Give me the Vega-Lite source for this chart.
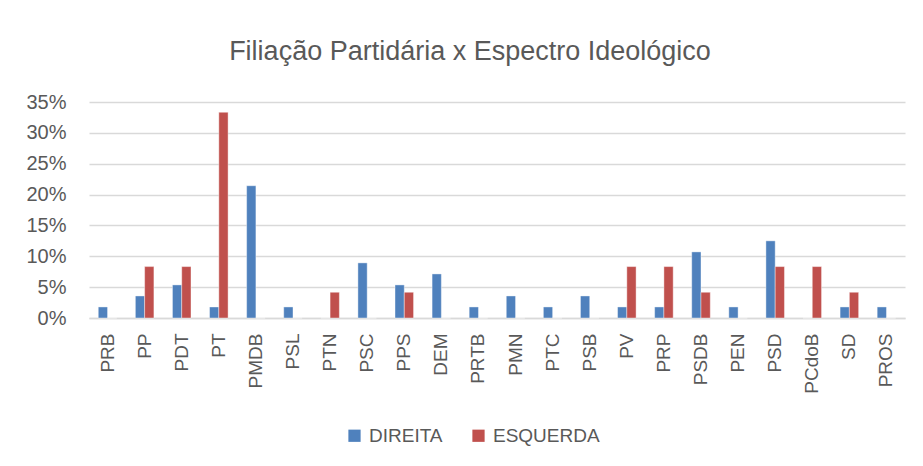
{
  "$schema": "https://vega.github.io/schema/vega-lite/v6.json",
  "autosize": {"type": "none"},
  "width": 816,
  "height": 216,
  "padding": {"left": 89, "top": 102, "right": 18, "bottom": 148},
  "background": "white",
  "title": {
    "text": "Filiação Partidária x Espectro Ideológico",
    "font": "Liberation Sans",
    "fontSize": 27,
    "fontWeight": "normal",
    "color": "#595959",
    "anchor": "middle",
    "offset": 26,
    "dx": -27
  },
  "data": {
    "values": [
      {"partido": "PRB", "espectro": "DIREITA", "valor": 0.0179},
      {"partido": "PRB", "espectro": "ESQUERDA", "valor": 0},
      {"partido": "PP", "espectro": "DIREITA", "valor": 0.0357},
      {"partido": "PP", "espectro": "ESQUERDA", "valor": 0.0833},
      {"partido": "PDT", "espectro": "DIREITA", "valor": 0.0536},
      {"partido": "PDT", "espectro": "ESQUERDA", "valor": 0.0833},
      {"partido": "PT", "espectro": "DIREITA", "valor": 0.0179},
      {"partido": "PT", "espectro": "ESQUERDA", "valor": 0.3333},
      {"partido": "PMDB", "espectro": "DIREITA", "valor": 0.2143},
      {"partido": "PMDB", "espectro": "ESQUERDA", "valor": 0},
      {"partido": "PSL", "espectro": "DIREITA", "valor": 0.0179},
      {"partido": "PSL", "espectro": "ESQUERDA", "valor": 0},
      {"partido": "PTN", "espectro": "DIREITA", "valor": 0},
      {"partido": "PTN", "espectro": "ESQUERDA", "valor": 0.0417},
      {"partido": "PSC", "espectro": "DIREITA", "valor": 0.0893},
      {"partido": "PSC", "espectro": "ESQUERDA", "valor": 0},
      {"partido": "PPS", "espectro": "DIREITA", "valor": 0.0536},
      {"partido": "PPS", "espectro": "ESQUERDA", "valor": 0.0417},
      {"partido": "DEM", "espectro": "DIREITA", "valor": 0.0714},
      {"partido": "DEM", "espectro": "ESQUERDA", "valor": 0},
      {"partido": "PRTB", "espectro": "DIREITA", "valor": 0.0179},
      {"partido": "PRTB", "espectro": "ESQUERDA", "valor": 0},
      {"partido": "PMN", "espectro": "DIREITA", "valor": 0.0357},
      {"partido": "PMN", "espectro": "ESQUERDA", "valor": 0},
      {"partido": "PTC", "espectro": "DIREITA", "valor": 0.0179},
      {"partido": "PTC", "espectro": "ESQUERDA", "valor": 0},
      {"partido": "PSB", "espectro": "DIREITA", "valor": 0.0357},
      {"partido": "PSB", "espectro": "ESQUERDA", "valor": 0},
      {"partido": "PV", "espectro": "DIREITA", "valor": 0.0179},
      {"partido": "PV", "espectro": "ESQUERDA", "valor": 0.0833},
      {"partido": "PRP", "espectro": "DIREITA", "valor": 0.0179},
      {"partido": "PRP", "espectro": "ESQUERDA", "valor": 0.0833},
      {"partido": "PSDB", "espectro": "DIREITA", "valor": 0.1071},
      {"partido": "PSDB", "espectro": "ESQUERDA", "valor": 0.0417},
      {"partido": "PEN", "espectro": "DIREITA", "valor": 0.0179},
      {"partido": "PEN", "espectro": "ESQUERDA", "valor": 0},
      {"partido": "PSD", "espectro": "DIREITA", "valor": 0.125},
      {"partido": "PSD", "espectro": "ESQUERDA", "valor": 0.0833},
      {"partido": "PCdoB", "espectro": "DIREITA", "valor": 0},
      {"partido": "PCdoB", "espectro": "ESQUERDA", "valor": 0.0833},
      {"partido": "SD", "espectro": "DIREITA", "valor": 0.0179},
      {"partido": "SD", "espectro": "ESQUERDA", "valor": 0.0417},
      {"partido": "PROS", "espectro": "DIREITA", "valor": 0.0179},
      {"partido": "PROS", "espectro": "ESQUERDA", "valor": 0}
    ]
  },
  "mark": {"type": "bar", "stroke": "#ffffff", "strokeOpacity": 0.5, "strokeWidth": 0.8},
  "encoding": {
    "x": {
      "field": "partido",
      "type": "nominal",
      "sort": null,
      "scale": {"paddingInner": 0.5, "paddingOuter": 0.25},
      "axis": {
        "title": null,
        "labelAngle": -90,
        "labelFont": "Liberation Sans",
        "labelFontSize": 19,
        "labelColor": "#595959",
        "labelPadding": 15,
        "ticks": false,
        "domainColor": "#d9d9d9",
        "domainWidth": 1.5
      }
    },
    "xOffset": {"field": "espectro", "type": "nominal", "sort": ["DIREITA", "ESQUERDA"]},
    "y": {
      "field": "valor",
      "type": "quantitative",
      "scale": {"domain": [0, 0.35], "nice": false},
      "axis": {
        "title": null,
        "format": ".0%",
        "values": [0, 0.05, 0.1, 0.15, 0.2, 0.25, 0.3, 0.35],
        "labelFont": "Liberation Sans",
        "labelFontSize": 20,
        "labelColor": "#595959",
        "labelPadding": 23,
        "ticks": false,
        "domain": false,
        "grid": true,
        "gridColor": "#d9d9d9",
        "gridWidth": 1.5
      }
    },
    "color": {
      "field": "espectro",
      "type": "nominal",
      "scale": {"domain": ["DIREITA", "ESQUERDA"], "range": ["#4F81BD", "#C0504D"]},
      "legend": {
        "title": null,
        "orient": "none",
        "direction": "horizontal",
        "legendX": 256,
        "legendY": 324,
        "symbolType": "square",
        "symbolSize": 150,
        "symbolStrokeWidth": 0,
        "labelFont": "Liberation Sans",
        "labelFontSize": 19,
        "labelColor": "#595959",
        "columnPadding": 26,
        "labelOffset": 5
      }
    }
  },
  "config": {"view": {"stroke": null}}
}
